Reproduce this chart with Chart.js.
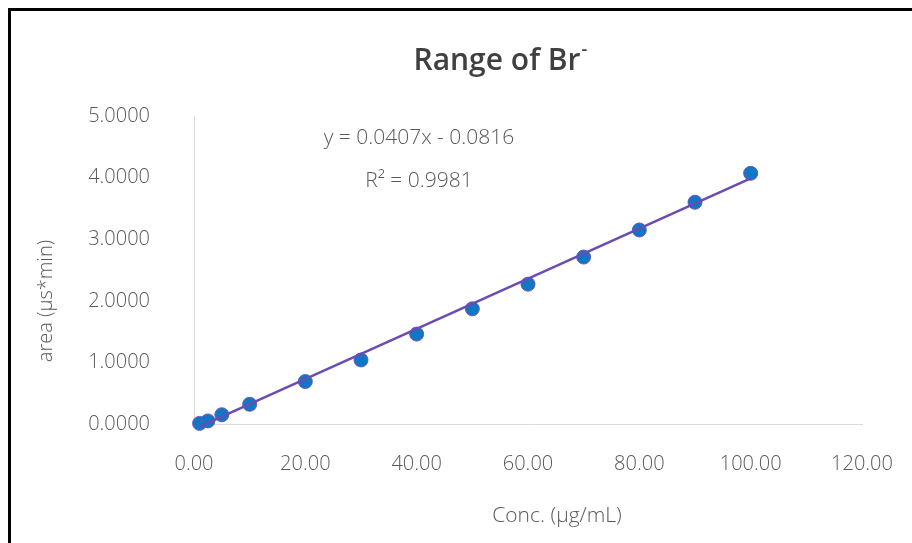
<!DOCTYPE html>
<html>
<head>
<meta charset="utf-8">
<script src="https://cdn.jsdelivr.net/npm/chart.js@4/dist/chart.umd.min.js"></script>
<style>
  html, body { margin: 0; padding: 0; background: #fff; overflow: hidden; }
  #wrap { position: relative; width: 912px; height: 543px; }
  #frame {
    position: absolute; left: 8px; top: 8px; width: 1000px; height: 700px;
    border-top: 3px solid #000; border-left: 3px solid #000;
  }
  canvas { position: absolute; left: 0; top: 0; }
</style>
</head>
<body>
<div id="wrap">
  <div id="frame"></div>
  <canvas id="rangeChart" width="912" height="543"></canvas>
</div>
<script>
// Bromide calibration: concentration (µg/mL) vs peak area (µs*min)
const concentrations = [1, 2.5, 5, 10, 20, 30, 40, 50, 60, 70, 80, 90, 100];
const areas = [0.01, 0.05, 0.15, 0.32, 0.69, 1.04, 1.46, 1.87, 2.27, 2.71, 3.15, 3.60, 4.07];

// Linear trendline as given by the fitted equation
const slope = 0.0407;
const intercept = -0.0816;
const rSquared = 0.9981;

const xTicks = [0, 20, 40, 60, 80, 100, 120];
const yTicks = [0, 1, 2, 3, 4, 5];

const points = concentrations.map((x, i) => ({ x, y: areas[i] }));
const xFirst = concentrations[0];
const xLast = concentrations[concentrations.length - 1];
const trend = [
  { x: xFirst, y: slope * xFirst + intercept },
  { x: xLast, y: slope * xLast + intercept }
];

const FONT = "'Open Sans', 'Noto Sans', sans-serif";
const GREY = "#595959";

// Title, equation and axis titles
const textPlugin = {
  id: "textPlugin",
  afterDraw(chart) {
    const ctx = chart.ctx;
    ctx.save();
    ctx.fillStyle = "#404040";
    ctx.textBaseline = "alphabetic";

    // title with superscript minus
    ctx.font = "600 30px " + FONT;
    const title = "Range of Br";
    const w = ctx.measureText(title).width;
    const tx = 497 - w / 2;
    ctx.textAlign = "left";
    ctx.fillText(title, tx, 70);
    ctx.font = "600 18px " + FONT;
    ctx.fillText("-", tx + w + 1, 55);

    ctx.fillStyle = GREY;
    ctx.font = "300 21px " + FONT;
    ctx.textAlign = "center";
    ctx.fillText("y = " + slope.toFixed(4) + "x - " + Math.abs(intercept).toFixed(4), 419, 144);
    ctx.fillText("R² = " + rSquared.toFixed(4), 419, 187);

    ctx.font = "300 21px " + FONT;
    ctx.fillText("Conc. (µg/mL)", 557, 522);

    ctx.translate(52, 301);
    ctx.rotate(-Math.PI / 2);
    ctx.font = "300 20px " + FONT;
    ctx.fillText("area (µs*min)", 0, 0);
    ctx.restore();
  }
};

new Chart(document.getElementById("rangeChart"), {
  type: "scatter",
  data: {
    datasets: [
      {
        label: "Trendline",
        type: "line",
        data: trend,
        borderColor: "#6A4CB4",
        borderWidth: 2.5,
        pointRadius: 0,
        fill: false,
        clip: false,
        order: 1
      },
      {
        label: "Br-",
        data: points,
        backgroundColor: "#0E78C4",
        borderColor: "#6F55B8",
        borderWidth: 1,
        pointRadius: 7,
        clip: false,
        order: 2
      }
    ]
  },
  options: {
    responsive: false,
    animation: false,
    layout: { padding: { top: 116, right: 50, bottom: 0, left: 0 } },
    plugins: {
      legend: { display: false },
      title: { display: false },
      tooltip: { enabled: false }
    },
    scales: {
      x: {
        type: "linear",
        min: xTicks[0],
        max: xTicks[xTicks.length - 1],
        afterFit: s => { s.height = 119; s.paddingLeft = 0; s.paddingRight = 0; },
        afterBuildTicks: s => { s.ticks = xTicks.map(v => ({ value: v })); },
        grid: { display: false, drawTicks: false },
        border: { display: true, color: "#D9D9D9", width: 1 },
        ticks: {
          padding: 28,
          color: GREY,
          font: { family: FONT, size: 20, weight: 300 },
          callback: v => v.toFixed(2)
        }
      },
      y: {
        type: "linear",
        min: yTicks[0],
        max: yTicks[yTicks.length - 1],
        afterFit: s => { s.width = 194; s.paddingTop = 0; s.paddingBottom = 0; },
        afterBuildTicks: s => { s.ticks = yTicks.map(v => ({ value: v })); },
        grid: { display: false, drawTicks: false },
        border: { display: true, color: "#D9D9D9", width: 1 },
        ticks: {
          padding: 44,
          color: GREY,
          font: { family: FONT, size: 20, weight: 300 },
          callback: v => v.toFixed(4)
        }
      }
    }
  },
  plugins: [textPlugin]
});
</script>
</body>
</html>
